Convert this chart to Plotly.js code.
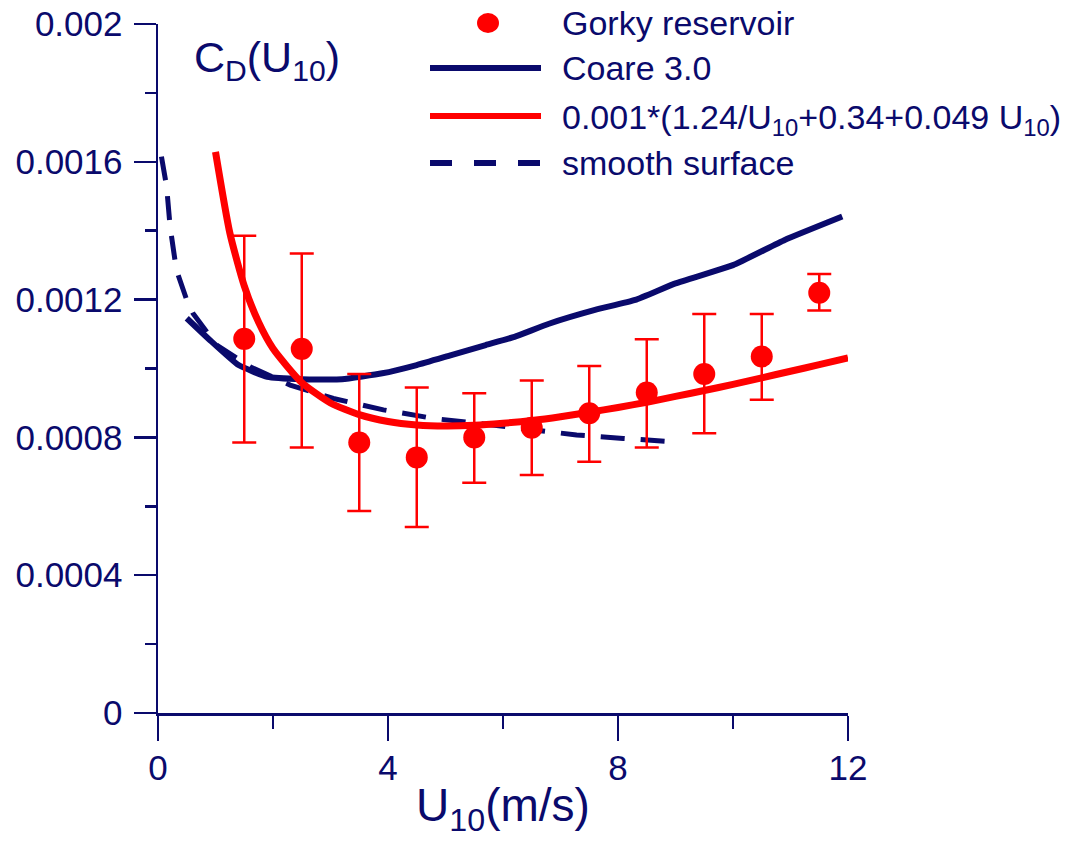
<!DOCTYPE html>
<html>
<head>
<meta charset="utf-8">
<script src="https://cdn.plot.ly/plotly-3.0.1.min.js"></script>
<style>html,body{margin:0;padding:0;background:#fff;}#chart{width:1090px;height:841px;}</style>
</head>
<body>
<div id="chart"></div>
<script>
// Gorky reservoir measurements
const gorkyU = [1.5, 2.5, 3.5, 4.5, 5.5, 6.5, 7.5, 8.5, 9.5, 10.5, 11.5];
const gorkyCd = [0.001086, 0.001057, 0.000785, 0.000742, 0.000800, 0.000828, 0.000870, 0.000930, 0.000984, 0.001035, 0.001220];
const gorkyErrPlus = [0.000299, 0.000277, 0.000199, 0.000203, 0.000128, 0.000137, 0.000137, 0.000155, 0.000174, 0.000123, 0.000054];
const gorkyErrMinus = [0.000301, 0.000286, 0.000199, 0.000202, 0.000132, 0.000137, 0.000141, 0.000159, 0.000172, 0.000126, 0.000052];

// Coare 3.0 curve
const coareU = [0.5, 0.9, 1.4, 1.9, 2.5, 3.2, 3.9, 4.5, 5.1, 5.7, 6.2, 6.8, 7.6, 8.3, 9.0, 10.0, 10.9, 11.9];
const coareCd = [0.001146, 0.001083, 0.001010, 0.000976, 0.000969, 0.000969, 0.000986, 0.001010, 0.001039, 0.001068, 0.001092, 0.001130, 0.001170, 0.001199, 0.001247, 0.001300, 0.001373, 0.001441];

// Fit curve 0.001*(1.24/U10+0.34+0.049 U10)
const fitU = [1.0, 1.25, 1.5, 1.75, 2.0, 2.5, 3.0, 3.5, 4.0, 4.5, 5.0, 5.5, 6.0, 6.5, 7.0, 7.5, 8.0, 8.5, 9.0, 9.5, 10.0, 10.5, 11.0, 11.5, 12.0];
const fitCd = [0.001629, 0.001393, 0.001240, 0.001134, 0.001058, 0.000959, 0.000900, 0.000866, 0.000846, 0.000836, 0.000833, 0.000835, 0.000841, 0.000849, 0.000860, 0.000873, 0.000887, 0.000902, 0.000919, 0.000936, 0.000954, 0.000973, 0.000992, 0.001011, 0.001031];

// Smooth surface curve
const smoothU = [0.06, 0.15, 0.21, 0.32, 0.5, 0.61, 1.02, 1.6, 2.3, 3.05, 3.92, 4.79, 5.66, 6.53, 7.28, 8.09, 8.9];
const smoothCd = [0.001615, 0.001528, 0.001412, 0.001286, 0.001199, 0.001160, 0.001068, 0.001005, 0.000952, 0.000913, 0.000880, 0.000855, 0.000839, 0.000821, 0.000807, 0.000797, 0.000788];

// Axis ticks
const yTickVals = [0, 0.0004, 0.0008, 0.0012, 0.0016, 0.002];
const yTickText = ["0", "0.0004", "0.0008", "0.0012", "0.0016", "0.002"];
const xTickVals = [0, 4, 8, 12];
const xTickText = ["0", "4", "8", "12"];

// Legend labels
const legendLabels = ["Gorky reservoir", "Coare 3.0", "0.001*(1.24/U<sub>10</sub>+0.34+0.049 U<sub>10</sub>)", "smooth surface"];

const NAVY = '#0a0a6c';
const RED = '#ff0000';
const FONT = 'Liberation Sans, Arial, sans-serif';

const traces = [
  {x: smoothU, y: smoothCd, mode: 'lines', name: legendLabels[3], line: {color: NAVY, width: 5, dash: '24px,16px'}, showlegend: false},
  {x: coareU, y: coareCd, mode: 'lines', name: legendLabels[1], line: {color: NAVY, width: 6, shape: 'spline', smoothing: 0.4}, showlegend: false},
  {x: fitU, y: fitCd, mode: 'lines', name: legendLabels[2], line: {color: RED, width: 7, shape: 'spline', smoothing: 0.6}, showlegend: false},
  {x: gorkyU, y: gorkyCd, mode: 'markers', name: legendLabels[0], marker: {color: RED, size: 22},
   error_y: {type: 'data', symmetric: false, array: gorkyErrPlus, arrayminus: gorkyErrMinus, color: RED, thickness: 2.5, width: 12}, showlegend: false}
];

// custom legend geometry (paper coordinates)
function px2x(p){ return (p - 158) / 690; }
function px2y(p){ return (713 - p) / 689; }
const rowsY = [23, 68, 116, 163];
const shapes = [
  {type: 'circle', xref: 'paper', yref: 'paper', xsizemode: 'pixel', ysizemode: 'pixel', xanchor: px2x(488), yanchor: px2y(rowsY[0]), x0: -11, x1: 11, y0: -10, y1: 10, fillcolor: RED, line: {width: 0}},
  {type: 'line', xref: 'paper', yref: 'paper', x0: px2x(430), x1: px2x(541), y0: px2y(rowsY[1]), y1: px2y(rowsY[1]), line: {color: NAVY, width: 6}},
  {type: 'line', xref: 'paper', yref: 'paper', x0: px2x(430), x1: px2x(541), y0: px2y(rowsY[2]), y1: px2y(rowsY[2]), line: {color: RED, width: 6}},
  {type: 'line', xref: 'paper', yref: 'paper', x0: px2x(430), x1: px2x(541), y0: px2y(rowsY[3]), y1: px2y(rowsY[3]), line: {color: NAVY, width: 6, dash: '22px,22px'}}
];
const annotations = legendLabels.map((t, i) => ({
  text: t, xref: 'paper', yref: 'paper', x: px2x(560), y: px2y(rowsY[i] + (i === 2 ? 3 : 0)), xanchor: 'left', yanchor: 'middle',
  showarrow: false, font: {family: FONT, size: 34, color: NAVY}
}));
annotations.push({
  text: 'C<sub>D</sub>(U<sub>10</sub>)', xref: 'paper', yref: 'paper', x: px2x(192), y: px2y(60), xanchor: 'left', yanchor: 'middle',
  showarrow: false, font: {family: FONT, size: 43, color: NAVY}
});

const layout = {
  width: 1090, height: 841,
  margin: {l: 158, r: 242, t: 24, b: 128, pad: 0},
  paper_bgcolor: '#ffffff', plot_bgcolor: '#ffffff',
  showlegend: false,
  font: {family: FONT, color: NAVY},
  xaxis: {
    range: [0, 12], showgrid: false, zeroline: false, showline: true, linecolor: NAVY, linewidth: 2.5,
    ticks: 'outside', ticklen: 25, tickwidth: 2.5, tickcolor: NAVY,
    tickmode: 'array', tickvals: xTickVals, ticktext: xTickText,
    tickfont: {family: FONT, size: 35, color: NAVY}, ticklabelstandoff: -3,
    minor: {tickmode: 'linear', tick0: 0, dtick: 2, ticks: 'outside', ticklen: 13, tickwidth: 2.5, tickcolor: NAVY, showgrid: false},
    title: {text: 'U<sub>10</sub>(m/s)', font: {family: FONT, size: 46, color: NAVY}, standoff: 4}
  },
  yaxis: {
    range: [0, 0.002], showgrid: false, zeroline: false, showline: true, linecolor: NAVY, linewidth: 2.5,
    ticks: 'outside', ticklen: 22, tickwidth: 2.5, tickcolor: NAVY,
    tickmode: 'array', tickvals: yTickVals, ticktext: yTickText,
    tickfont: {family: FONT, size: 35, color: NAVY}, ticklabelstandoff: 4,
    minor: {tickmode: 'linear', tick0: 0, dtick: 0.0002, ticks: 'outside', ticklen: 11, tickwidth: 2.5, tickcolor: NAVY, showgrid: false}
  },
  shapes: shapes,
  annotations: annotations
};

Plotly.newPlot('chart', traces, layout, {displayModeBar: false, staticPlot: true});
</script>
</body>
</html>
